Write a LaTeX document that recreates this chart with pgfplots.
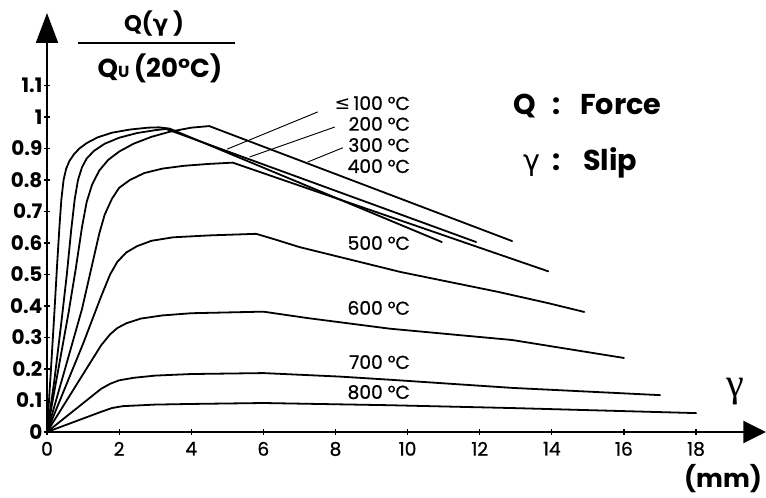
\documentclass[border=0pt]{standalone}
\usepackage{fontspec}
\setmainfont{Poppins}
\newfontfamily\medfont[FakeBold=0.8]{Poppins}
\newfontfamily\symfont{DejaVu Sans}
\newfontfamily\gammafont{Liberation Serif}
\usepackage{pgfplots}
\pgfplotsset{compat=1.18}
\usetikzlibrary{arrows.meta}

\newcommand{\fs}[1]{\fontsize{#1}{#1}\selectfont}
\tikzset{curve/.style={black, line width=1.35pt, line join=round, line cap=round, mark=none}}

\begin{document}
\begin{tikzpicture}
\begin{axis}[
  scale only axis,
  width=539.25pt, height=314.25pt,
  at={(35.25pt,49.5pt)}, anchor=south west,
  xmin=0, xmax=19.94, ymin=0, ymax=1.33,
  axis lines=left,
  axis line style={line width=1.5pt, black},
  x axis line style={-{Triangle[length=17pt,width=16.5pt]}},
  y axis line style={-{Triangle[length=22.5pt,width=16.5pt]}},
  xtick={0,2,4,6,8,10,12,14,16,18},
  ytick={0,0.1,0.2,0.3,0.4,0.5,0.6,0.7,0.8,0.9,1,1.1},
  yticklabels={0,0.1,0.2,0.3,0.4,0.5,0.6,0.7,0.8,0.9,1,1.1},
  minor x tick num=4, minor y tick num=9,
  tick align=center,
  major tick length=4.5pt, minor tick length=2.2pt,
  every tick/.style={black, line width=0.9pt},
  /pgf/number format/assume math mode=true,
  x tick label style={font=\fs{14}\medfont, inner sep=1pt, yshift=-4pt},
  y tick label style={font=\fs{15}\bfseries, inner sep=1pt},
  clip=false,
]
% <= 100 C
\addplot[curve] coordinates {(0,0) (0.1,0.18) (0.2,0.37) (0.28,0.53) (0.35,0.66)
  (0.4,0.74) (0.46,0.80) (0.53,0.835) (0.62,0.86) (0.75,0.882) (0.9,0.9) (1.1,0.917)
  (1.4,0.935) (1.8,0.95) (2.3,0.96) (2.8,0.966) (3.1,0.967) (3.4,0.963) (10.95,0.603)};
% 200 C
\addplot[curve] coordinates {(0,0) (0.2,0.16) (0.4,0.35) (0.55,0.50) (0.67,0.64)
  (0.77,0.74) (0.86,0.80) (0.97,0.84) (1.1,0.868) (1.3,0.892) (1.6,0.915) (2.0,0.934)
  (2.5,0.949) (3.0,0.958) (3.3,0.962) (11.9,0.603)};
% 300 C
\addplot[curve] coordinates {(0,0) (0.3,0.19) (0.6,0.38) (0.8,0.52) (0.97,0.65)
  (1.1,0.73) (1.25,0.785) (1.45,0.83) (1.7,0.864) (2.0,0.89) (2.4,0.915) (2.9,0.937)
  (3.4,0.953) (4.0,0.966) (4.5,0.971) (12.9,0.606)};
% 400 C
\addplot[curve] coordinates {(0,0) (0.5,0.2) (0.97,0.39) (1.25,0.53) (1.45,0.63)
  (1.6,0.69) (1.8,0.74) (2.0,0.775) (2.3,0.80) (2.7,0.822) (3.2,0.836) (3.8,0.845)
  (4.5,0.851) (5.15,0.855) (13.9,0.51)};
% 500 C
\addplot[curve] coordinates {(0,0) (1.0,0.28) (1.5,0.43) (1.75,0.50) (1.95,0.54)
  (2.2,0.57) (2.5,0.59) (2.9,0.607) (3.5,0.618) (4.5,0.624) (5.8,0.629) (6.3,0.612)
  (7,0.587) (9.8,0.508) (12.5,0.445) (13.9,0.409) (14.9,0.381)};
% 600 C
\addplot[curve] coordinates {(0,0) (1.5,0.275) (1.75,0.31) (1.95,0.33) (2.2,0.345)
  (2.6,0.36) (3.2,0.37) (4,0.377) (6,0.382) (7.2,0.362) (9.5,0.328) (12.9,0.292)
  (16,0.235)};
% 700 C
\addplot[curve] coordinates {(0,0) (1.5,0.137) (1.75,0.153) (2.0,0.164) (2.4,0.172)
  (3,0.179) (4,0.184) (6,0.187) (8.1,0.176) (9.5,0.166) (12.9,0.14) (17,0.117)};
% 800 C
\addplot[curve] coordinates {(0,0) (1.5,0.064) (1.8,0.076) (2.1,0.082) (3,0.087)
  (4,0.089) (6,0.092) (9.5,0.085) (12.9,0.076) (18,0.06)};

% leader lines from the upper labels
\draw[line width=0.7pt] (axis cs:7.51,1.016) -- (axis cs:5.0,0.898);
\draw[line width=0.7pt] (axis cs:7.98,0.968) -- (axis cs:5.62,0.873);
\draw[line width=0.7pt] (axis cs:8.20,0.902) -- (axis cs:7.23,0.857);

% temperature labels
\begin{scope}[every node/.style={anchor=east, font=\fs{14}\medfont, inner sep=0pt, text depth=0pt}]
\node at (axis cs:10.07,1.044) {{\symfont ≤}\,100 °C};
\node at (axis cs:10.07,0.978) {200 °C};
\node at (axis cs:10.07,0.911) {300 °C};
\node at (axis cs:10.07,0.844) {400 °C};
\node at (axis cs:10.07,0.600) {500 °C};
\node at (axis cs:10.07,0.394) {600 °C};
\node at (axis cs:10.07,0.222) {700 °C};
\node at (axis cs:10.07,0.127) {800 °C};
\end{scope}
\end{axis}

% annotations placed in a pixel-like frame (origin top left)
\begin{scope}[x=0.75pt, y=-0.75pt, yshift=373.5pt]
  % ordinate title as a fraction
  \node[font=\fs{17}\bfseries] at (154,24) {Q({\symfont γ} )};
  \draw[line width=1.4pt] (78,43) -- (235,43);
  \node[font=\fs{19.5}\bfseries] at (160,68) {Q{\fs{12}U}\,(20°C)};
  % key
  \node[font=\fs{21.5}\bfseries, anchor=base west, inner sep=0pt] at (513,115) {Q};
  \node[font=\fs{21.5}\bfseries, anchor=base, inner sep=0pt] at (557,115) {:};
  \node[font=\fs{21.5}\bfseries, anchor=base west, inner sep=0pt] at (580,115) {Force};
  \node[font=\fs{21.5}, anchor=base west, inner sep=0pt] at (523,171) {\symfont γ};
  \node[font=\fs{21.5}\bfseries, anchor=base, inner sep=0pt] at (557,171) {:};
  \node[font=\fs{21.5}\bfseries, anchor=base west, inner sep=0pt] at (583,171) {Slip};
  % abscissa label
  \node[font=\fs{30}, inner sep=0pt] at (735,392) {\gammafont γ};
  \node[font=\fs{19}\bfseries, inner sep=0pt] at (723,479) {(mm)};
\end{scope}
\pgfresetboundingbox
\path (0,0) rectangle (574.5pt,373.5pt);
\end{tikzpicture}
\end{document}
